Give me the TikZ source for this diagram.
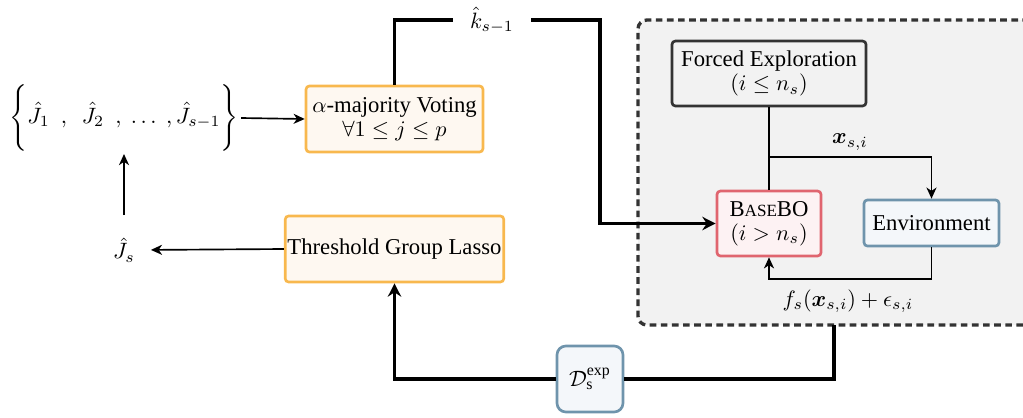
\documentclass[tikz,border=0pt]{standalone}
\usepackage{amsmath}
\usepackage{fontspec}
\setmainfont{Liberation Serif}
\usetikzlibrary{arrows.meta,calc}
\definecolor{orgB}{HTML}{F8B84E}
\definecolor{orgF}{HTML}{FEF8F1}
\definecolor{redB}{HTML}{E0656F}
\definecolor{redF}{HTML}{FDF2F3}
\definecolor{bluB}{HTML}{6F94AC}
\definecolor{bluF}{HTML}{F4F7FA}
\definecolor{grB}{HTML}{333333}
\definecolor{grF}{HTML}{F2F2F2}
\tikzset{
  box/.style={draw, line width=1.2pt, rounded corners=1.5pt, align=center, inner sep=1pt, font=\fontsize{10.2pt}{11pt}\selectfont},
  orgbox/.style={box, draw=orgB, fill=orgF},
  redbox/.style={box, draw=redB, fill=redF},
  blubox/.style={box, draw=bluB, fill=bluF},
  grbox/.style={box, draw=grB, fill=grF},
  thin/.style={line width=0.75pt, -{Stealth[length=5pt,width=4.5pt,inset=1.5pt]}},
  thinline/.style={line width=0.75pt},
  thickline/.style={line width=1.7pt},
  thickarrow/.style={line width=1.7pt, -{Stealth[length=6pt,width=6pt,inset=2pt]}},
  lbl/.style={inner sep=1pt, font=\fontsize{10.2pt}{11pt}\selectfont}
}
\begin{document}
\begin{tikzpicture}[x=0.45pt,y=-0.45pt]
\useasboundingbox (0,0) rectangle (1023,417);
\begin{scope}
\clip (0,0) rectangle (1023,417);
\node[draw=grB, fill=grF, line width=1.5pt, dash pattern=on 3pt off 2pt, rounded corners=4pt,
  minimum width=400*0.45pt, minimum height=305*0.45pt, inner sep=0pt] (loop) at (838,172.5) {};
\end{scope}
% nodes
\node[orgbox, minimum width=79.6pt, minimum height=29.7pt] (vote) at (394.5,119) {$\alpha$-majority Voting\\$\forall 1\leq j\leq p$};
\node[orgbox, minimum width=96.8pt, minimum height=29.7pt] (lasso) at (394.5,249) {Threshold Group Lasso};
\node[grbox, minimum width=87.3pt, minimum height=29.2pt] (forced) at (769,73.5) {Forced Exploration\\$(i\leq n_s)$};
\node[redbox, minimum width=46.8pt, minimum height=29.2pt] (base) at (769,223.5) {B{\fontsize{7.7pt}{9pt}\selectfont ASE}BO\\$(i>n_s)$};
\node[blubox, minimum width=60.7pt, minimum height=20.7pt] (env) at (931.5,223) {Environment};
\node[blubox, rounded corners=4pt, minimum width=29.7pt, minimum height=29.7pt, inner sep=0pt] (data) at (590,379) {$\mathcal{D}_{\mathrm{s}}^{\mathrm{exp}}$};
\node[lbl] (jset) at (124,118) {$\Bigg\{\hat J_1\hspace{5pt},\hspace{5pt}\hat J_2\hspace{5pt},\ \ldots\ ,\hat J_{s-1}\Bigg\}$};
\node[lbl] (js) at (124,250) {$\hat J_s$};
\node[lbl, inner xsep=7.5pt] (k) at (492,20) {$\hat k_{s-1}$};
\node[lbl] (xl) at (850,142) {$\boldsymbol{x}_{s,i}$};
\node[lbl] (fl) at (848,301) {$f_s(\boldsymbol{x}_{s,i})+\epsilon_{s,i}$};
% coordinates
\coordinate (kturn) at (600,223.5);
\coordinate (branch) at (769,157);
\coordinate (fbc) at (769,279);
\coordinate (dout) at (834,325);
\coordinate (dlow) at (834,379);
\coordinate (llow) at (394.5,379);
% connectors
\draw[thin] (jset.east) -- (vote.west);
\draw[thin, shorten <=9pt, shorten >=0pt] (js.north) -- (jset.south);
\draw[thin, shorten >=6pt] (lasso.west) -- (js.east);
\draw[thickline] (vote.north) |- (k.west);
\draw[thickarrow] (k.east) -| (kturn) -- (base.west);
\draw[thinline] (forced.south) -- (base.north);
\draw[thin] (branch) -| (env.north);
\draw[thin] (env.south) |- (fbc) -- (base.south);
\draw[thickline] (dout) -- (dlow) -- (data.east);
\draw[thickarrow] (data.west) -- (llow) -- (lasso.south);
\end{tikzpicture}
\end{document}
